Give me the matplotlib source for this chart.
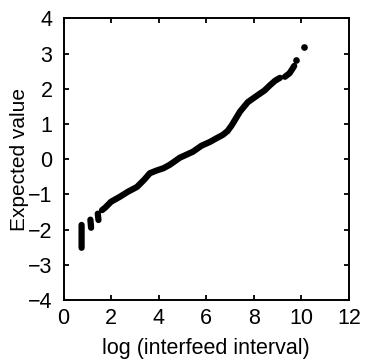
import numpy as np
import matplotlib
matplotlib.use('Agg')
import matplotlib.pyplot as plt

plt.rcParams['font.family'] = ['Liberation Sans', 'DejaVu Sans']

nan = np.nan

# log(interfeed interval) vs expected normal value
# NaN breaks the trace where the plotted points leave a gap
log_interval = [0.76, 0.76, nan,
                1.13, 1.16, nan,
                1.44, 1.47, nan,
                1.62, 1.75, 2.00, 2.37, 2.70, 3.09, 3.40, 3.63, 3.93, 4.20,
                4.47, 4.89, 5.44, 5.80, 6.16, 6.45, 6.70, 6.90, 7.08, 7.42,
                7.75, 8.17, 8.45, 8.68, 8.90, 9.10, nan,
                9.31, 9.50, 9.60, 9.70]
expected = [-1.87, -2.52, nan,
            -1.72, -1.95, nan,
            -1.55, -1.73, nan,
            -1.45, -1.38, -1.21, -1.07, -0.93, -0.79, -0.58, -0.40, -0.32, -0.26,
            -0.16, 0.04, 0.21, 0.38, 0.49, 0.60, 0.69, 0.80, 0.97, 1.35,
            1.62, 1.82, 1.95, 2.10, 2.23, 2.31, nan,
            2.34, 2.44, 2.54, 2.65]

# the few points standing apart at the upper end
outlier_x = [9.76, 10.10]
outlier_y = [2.82, 3.18]

x_ticks = [0, 2, 4, 6, 8, 10, 12]
y_ticks = [-4, -3, -2, -1, 0, 1, 2, 3, 4]

fig = plt.figure(figsize=(3.65, 3.60), dpi=100)
ax = fig.add_axes([0.174, 0.167, 0.782, 0.782])

ax.plot(log_interval, expected, '-', color='k', lw=4.5,
        solid_capstyle='round', solid_joinstyle='round')
ax.plot(outlier_x, outlier_y, 'o', color='k', ms=4.8, mec='none')

ax.set_xlim(0, 12)
ax.set_ylim(-4, 4)
ax.set_xticks(x_ticks)
ax.set_yticks(y_ticks)

for s in ['left', 'right', 'top', 'bottom']:
    ax.spines[s].set_linewidth(1.4)

ax.tick_params(direction='in', top=True, right=True, length=3.8, width=1.3,
               labelsize=15.5, colors='k')
ax.tick_params(axis='x', pad=6)
ax.tick_params(axis='y', pad=8)

ax.set_xlabel('log (interfeed interval)', fontsize=15.5, labelpad=6)
ax.set_ylabel('Expected value', fontsize=15, labelpad=-1)

fig.savefig('out.png', dpi=100)
